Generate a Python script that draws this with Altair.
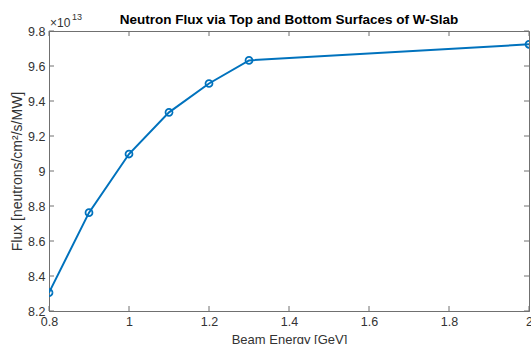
import altair as alt
import pandas as pd

energy = [0.8, 0.9, 1.0, 1.1, 1.2, 1.3, 2.0]
flux = [8.305, 8.762, 9.097, 9.335, 9.500, 9.632, 9.724]  # units of 1e13

x_ticks = [0.8, 1.0, 1.2, 1.4, 1.6, 1.8, 2.0]
y_ticks = [8.2, 8.4, 8.6, 8.8, 9.0, 9.2, 9.4, 9.6, 9.8]

title_text = "Neutron Flux via Top and Bottom Surfaces of W-Slab"
exp_base = "×10"
exp_power = "13"

W, H = 480, 280
FONT = "Liberation Sans"
AX = "#333333"
LN = "#707070"
BLUE = "#0072BD"

df = pd.DataFrame({"energy": energy, "flux": flux})
xt = pd.DataFrame({"v": x_ticks})
yt = pd.DataFrame({"v": y_ticks})

xscale = alt.Scale(domain=[0.8, 2.0], nice=False, zero=False)
yscale = alt.Scale(domain=[8.2, 9.8], nice=False, zero=False)

xaxis = alt.Axis(values=x_ticks, format=".1~f", tickSize=0, labelPadding=4,
                 labelOverlap=False, labelFlush=False,
                 labelFont=FONT, labelFontSize=12.5, labelColor=AX,
                 titleFont=FONT, titleFontSize=13, titleFontWeight="normal", titleColor=AX,
                 title="Beam Energy [GeV]", titlePadding=6, grid=False)
yaxis = alt.Axis(values=y_ticks, format=".1~f", tickSize=0, labelPadding=4,
                 labelOverlap=False, labelFlush=False,
                 labelFont=FONT, labelFontSize=12.5, labelColor=AX,
                 titleFont=FONT, titleFontSize=14, titleFontWeight="normal", titleColor=AX,
                 title="Flux [neutrons/cm²/s/MW]", titlePadding=3, grid=False)

line = alt.Chart(df).mark_line(color=BLUE, strokeWidth=2, clip=True).encode(
    x=alt.X("energy:Q", scale=xscale, axis=xaxis),
    y=alt.Y("flux:Q", scale=yscale, axis=yaxis),
)
pts = alt.Chart(df).mark_point(color=BLUE, shape="circle", size=48, strokeWidth=1.8,
                               filled=False, opacity=1, clip=True).encode(
    x=alt.X("energy:Q", scale=xscale, axis=xaxis),
    y=alt.Y("flux:Q", scale=yscale, axis=yaxis),
)

tb = alt.Chart(xt).mark_rule(color=LN, strokeWidth=1).encode(
    x=alt.X("v:Q", scale=xscale, axis=xaxis), y=alt.value(H), y2=alt.value(H - 5))
tt = alt.Chart(xt).mark_rule(color=LN, strokeWidth=1).encode(
    x=alt.X("v:Q", scale=xscale, axis=xaxis), y=alt.value(0), y2=alt.value(5))
tl = alt.Chart(yt).mark_rule(color=LN, strokeWidth=1).encode(
    y=alt.Y("v:Q", scale=yscale, axis=yaxis), x=alt.value(0), x2=alt.value(5))
tr = alt.Chart(yt).mark_rule(color=LN, strokeWidth=1).encode(
    y=alt.Y("v:Q", scale=yscale, axis=yaxis), x=alt.value(W), x2=alt.value(W - 5))

exp1 = alt.Chart(pd.DataFrame({"t": [exp_base]})).mark_text(
    font=FONT, fontSize=12, color=AX, align="left", baseline="alphabetic").encode(
    text="t:N", x=alt.value(1), y=alt.value(-4))
exp2 = alt.Chart(pd.DataFrame({"t": [exp_power]})).mark_text(
    font=FONT, fontSize=9, color=AX, align="left", baseline="alphabetic").encode(
    text="t:N", x=alt.value(23), y=alt.value(-11))
ttl = alt.Chart(pd.DataFrame({"t": [title_text]})).mark_text(
    font=FONT, fontSize=13.5, fontWeight="bold", color="#000000", align="center",
    baseline="alphabetic").encode(
    text="t:N", x=alt.value(W / 2), y=alt.value(-7))

chart = alt.layer(line, pts, tb, tt, tl, tr, exp1, exp2, ttl).properties(
    width=W, height=H,
    background="white",
    autosize=alt.AutoSizeParams(type="none"),
    padding={"left": 49, "top": 31, "right": 2, "bottom": 33},
).configure_view(stroke=LN, strokeWidth=1).configure_axis(
    domainColor=LN, domainWidth=1,
)

chart.save("out.html", embed_options={"renderer": "svg", "actions": False})
